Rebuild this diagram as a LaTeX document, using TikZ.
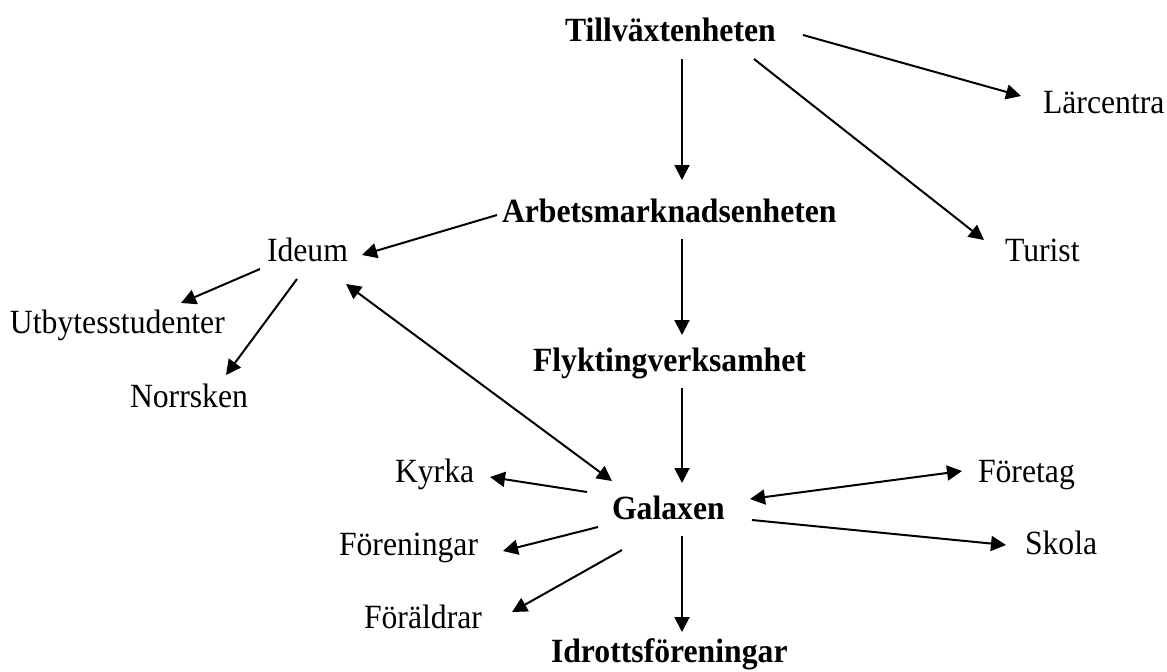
\documentclass[tikz,border=0pt]{standalone}
\usepackage{fontspec}
\usepackage{graphicx}
\setmainfont{Liberation Serif}
\usetikzlibrary{arrows.meta}
\newcommand\stretchtxt[1]{\scalebox{1}[1.07]{#1}}
\tikzset{
  txt/.style={anchor=base west, inner sep=0pt, outer sep=0pt, font=\fontsize{15.85}{19}\selectfont},
  btxt/.style={txt, font=\fontsize{15.85}{19}\selectfont\bfseries},
  arr/.style={line width=1pt, -{Triangle[length=7.5pt,width=7.5pt]}},
  darr/.style={line width=1pt, {Triangle[length=7.5pt,width=7.5pt]}-{Triangle[length=7.5pt,width=7.5pt]}}
}
\begin{document}
\begin{tikzpicture}[x=0.5pt,y=-0.5pt]
\useasboundingbox (0,0) rectangle (1167,671);
% nodes
\node[btxt] (T) at (565,41) {\stretchtxt{Tillväxtenheten}};
\node[txt] (L) at (1043,113) {\stretchtxt{Lärcentra}};
\node[btxt] (A) at (502,222) {\stretchtxt{Arbetsmarknadsenheten}};
\node[txt] (U) at (1005,261) {\stretchtxt{Turist}};
\node[txt] (I) at (267,261) {\stretchtxt{Ideum}};
\node[txt] (S) at (10,333) {\stretchtxt{Utbytesstudenter}};
\node[btxt] (F) at (533,371) {\stretchtxt{Flyktingverksamhet}};
\node[txt] (N) at (130,407) {\stretchtxt{Norrsken}};
\node[txt] (K) at (395,482) {\stretchtxt{Kyrka}};
\node[txt] (E) at (978,482) {\stretchtxt{Företag}};
\node[btxt] (G) at (612,519) {\stretchtxt{Galaxen}};
\node[txt] (O) at (339,555) {\stretchtxt{Föreningar}};
\node[txt] (Sk) at (1025,554) {\stretchtxt{Skola}};
\node[txt] (P) at (364,628) {\stretchtxt{Föräldrar}};
\node[btxt] (D) at (551,662) {\stretchtxt{Idrottsföreningar}};
% connectors
\draw[arr] ([shift={(117,18)}]T.base west) -- ([shift={(180,-42)}]A.base west);
\draw[arr] ([shift={(238,-6)}]T.base west) -- ([shift={(-22,-17)}]L.base west);
\draw[arr] ([shift={(189,18)}]T.base west) -- ([shift={(-21,-21)}]U.base west);
\draw[arr] ([shift={(-5,-7)}]A.base west) -- ([shift={(95,-6)}]I.base west);
\draw[arr] ([shift={(180,17)}]A.base west) -- ([shift={(149,-36)}]F.base west);
\draw[arr] ([shift={(-7,8)}]I.base west) -- ([shift={(171,-30)}]S.base west);
\draw[arr] ([shift={(30,18)}]I.base west) -- ([shift={(96,-32)}]N.base west);
\draw[darr] ([shift={(79,23)}]I.base west) -- ([shift={(0,-38)}]G.base west);
\draw[arr] ([shift={(149,17)}]F.base west) -- ([shift={(70,-36)}]G.base west);
\draw[arr] ([shift={(-25,-27)}]G.base west) -- ([shift={(95,-5)}]K.base west);
\draw[darr] ([shift={(138,-20)}]G.base west) -- ([shift={(-16,-11)}]E.base west);
\draw[arr] ([shift={(-14,8)}]G.base west) -- ([shift={(164,-4)}]O.base west);
\draw[arr] ([shift={(140,1)}]G.base west) -- ([shift={(-19,-9)}]Sk.base west);
\draw[arr] ([shift={(10,31)}]G.base west) -- ([shift={(148,-16)}]P.base west);
\draw[arr] ([shift={(70,17)}]G.base west) -- ([shift={(131,-30)}]D.base west);
\end{tikzpicture}
\end{document}
